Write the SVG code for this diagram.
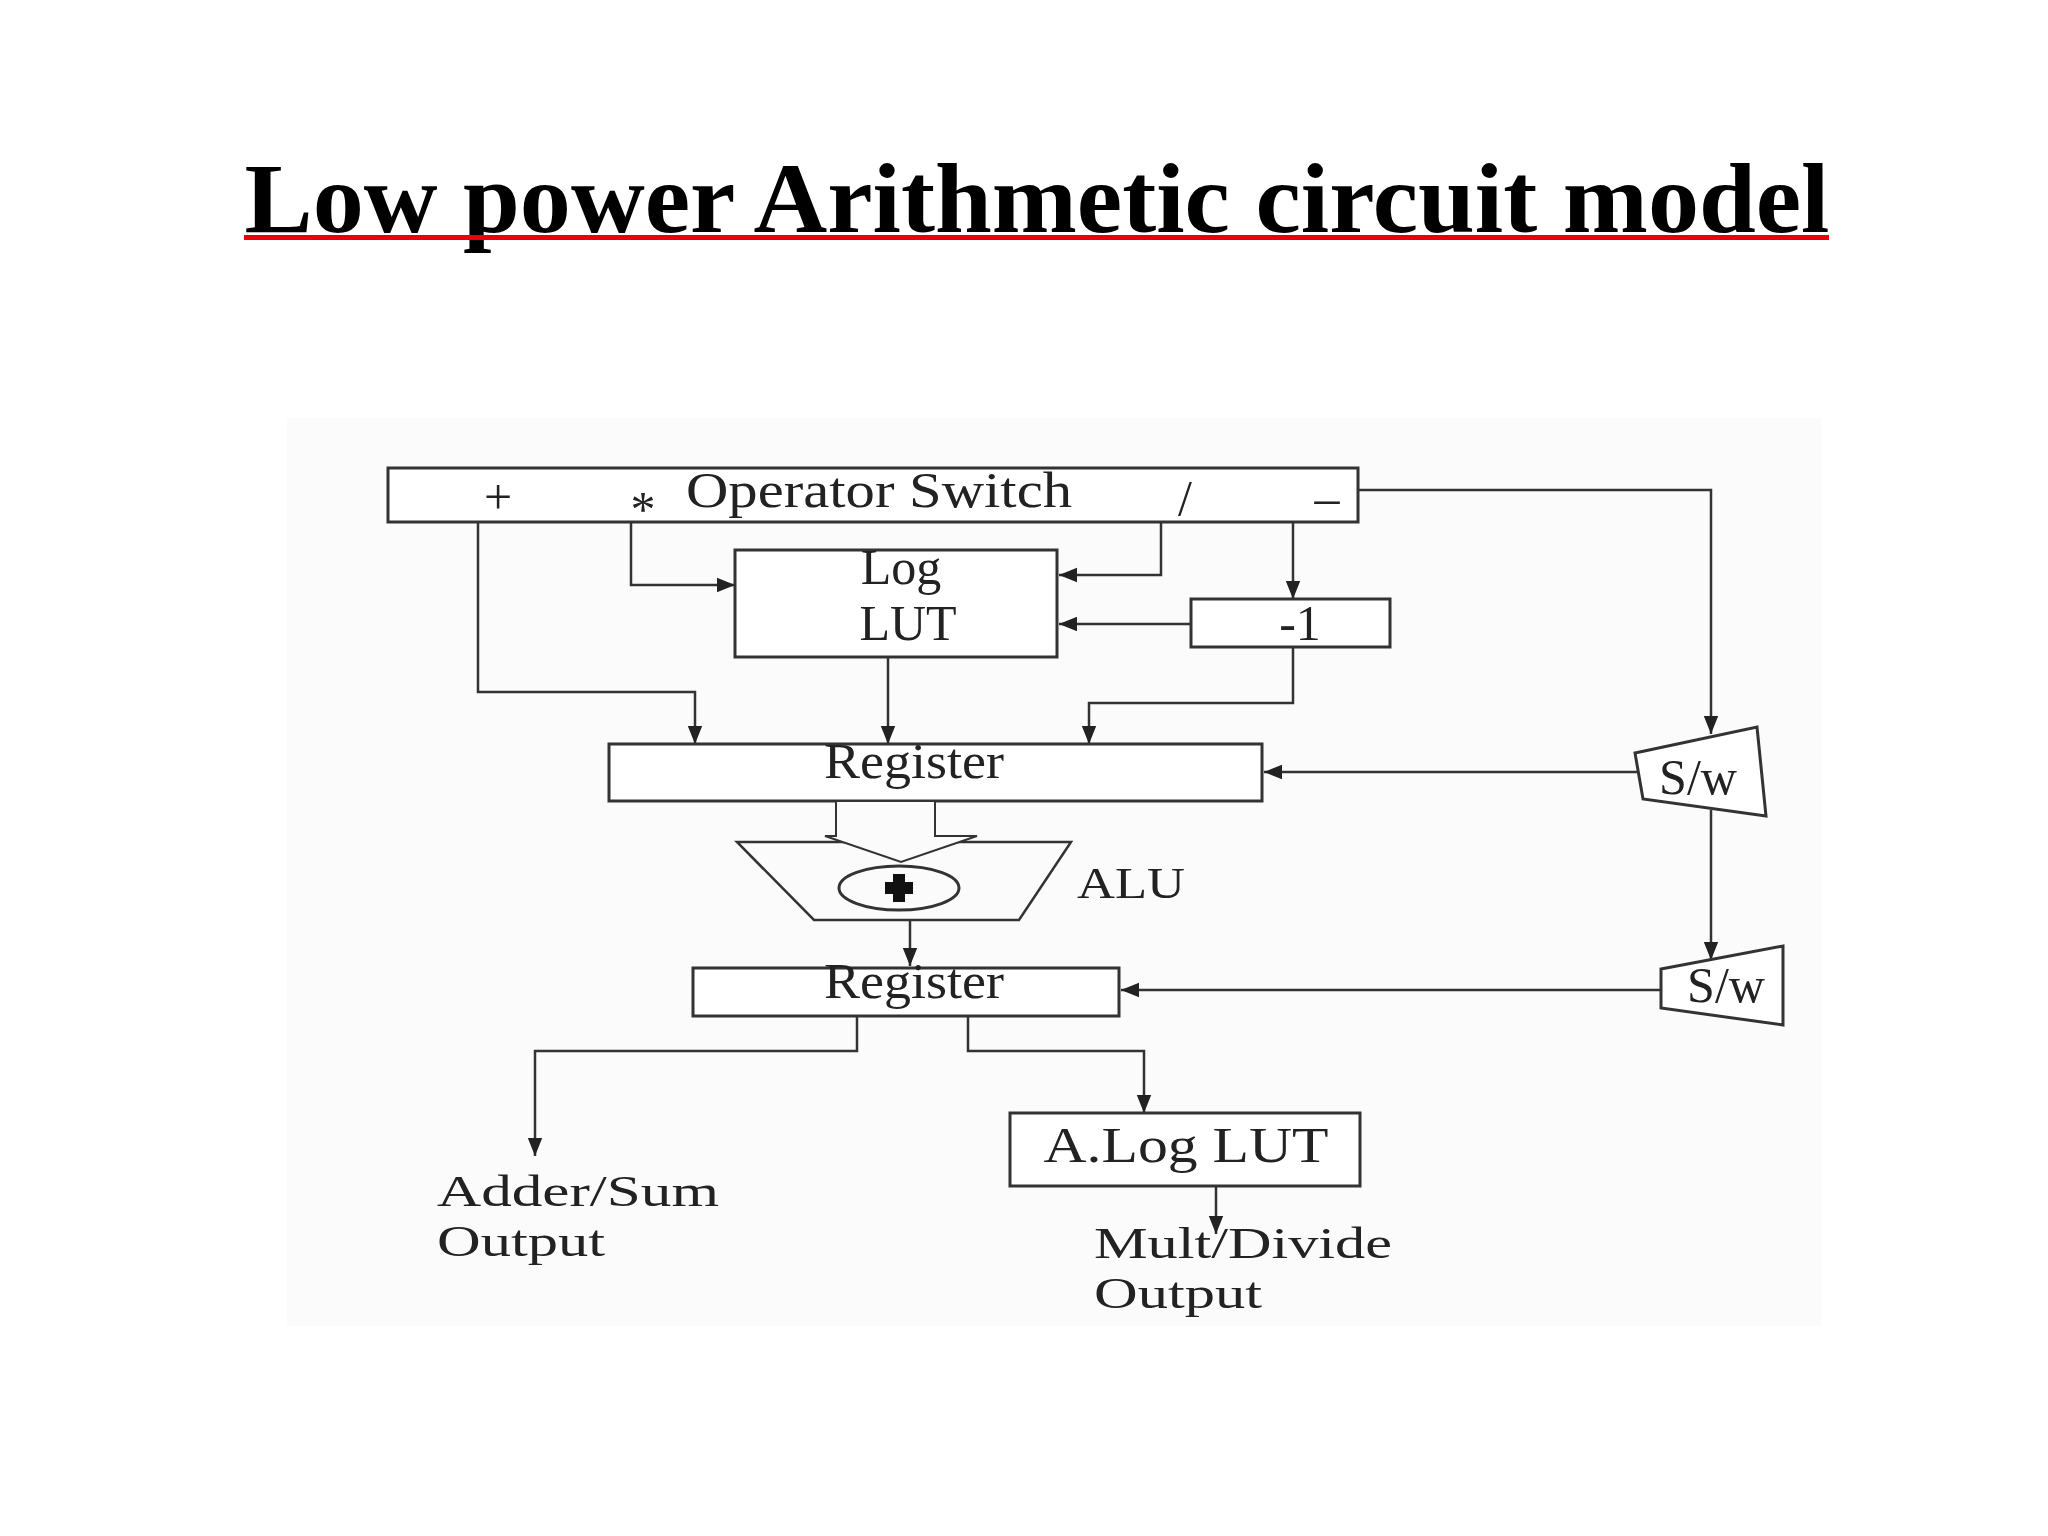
<svg xmlns="http://www.w3.org/2000/svg" width="2048" height="1536" viewBox="0 0 2048 1536">
<style>
.b{fill:#fff;stroke:#333;stroke-width:3}
.c{fill:none;stroke:#333;stroke-width:2.5}
.t{font-family:"Liberation Serif",serif;font-size:50px;fill:#222;text-anchor:middle}
.l{font-family:"Liberation Serif",serif;font-size:44px;fill:#222}
</style>
<defs>
<marker id="a" viewBox="0 0 10 10" refX="10" refY="5" markerWidth="18" markerHeight="18" markerUnits="userSpaceOnUse" orient="auto"><path d="M0,1 L10,5 L0,9 z" fill="#222"/></marker>
</defs>
<rect width="2048" height="1536" fill="#fff"/>
<rect x="287" y="418" width="1535" height="908" fill="#fbfbfb"/>
<text x="1037" y="232" font-family="Liberation Serif,serif" font-weight="bold" font-size="100" text-anchor="middle" textLength="1585" lengthAdjust="spacingAndGlyphs">Low power Arithmetic circuit model</text>
<rect x="244" y="235" width="1585" height="5" fill="#e00"/>
<g id="connectors" class="c">
<path d="M1358,490 H1711 V734" marker-end="url(#a)"/>
<path d="M1711,810 V960" marker-end="url(#a)"/>
<path d="M1637,772 H1264" marker-end="url(#a)"/>
<path d="M1663,990 H1121" marker-end="url(#a)"/>
<path d="M478,522 V692 H695 V744" marker-end="url(#a)"/>
<path d="M631,522 V585 H735" marker-end="url(#a)"/>
<path d="M1161,522 V575 H1059" marker-end="url(#a)"/>
<path d="M1293,522 V599" marker-end="url(#a)"/>
<path d="M1191,624 H1059" marker-end="url(#a)"/>
<path d="M1293,647 V703 H1089 V744" marker-end="url(#a)"/>
<path d="M888,657 V744" marker-end="url(#a)"/>
<path d="M910,920 V966" marker-end="url(#a)"/>
<path d="M857,1016 V1051 H535 V1156" marker-end="url(#a)"/>
<path d="M968,1016 V1051 H1144 V1113" marker-end="url(#a)"/>
<path d="M1216,1186 V1234" marker-end="url(#a)"/>
</g>
<g id="opswitch">
<rect class="b" x="388" y="468" width="970" height="54"/>
<text class="t" x="879" y="507" textLength="386" lengthAdjust="spacingAndGlyphs">Operator Switch</text>
<text class="t" x="498" y="514" font-size="36">+</text>
<text class="t" x="643" y="526" font-size="30">*</text>
<text class="t" x="1185" y="515" font-size="30">/</text>
<text class="t" x="1327" y="515" font-size="30">–</text>
</g>
<g id="loglut">
<rect class="b" x="735" y="550" width="322" height="107"/>
<text class="t" x="901" y="584" font-size="42">Log</text>
<text class="t" x="908" y="640" font-size="42">LUT</text>
</g>
<g id="minus1">
<rect class="b" x="1191" y="599" width="199" height="48"/>
<text class="t" x="1300" y="640">-1</text>
</g>
<g id="register1">
<rect class="b" x="609" y="744" width="653" height="57"/>
<text class="t" x="914" y="778" textLength="180" lengthAdjust="spacingAndGlyphs">Register</text>
</g>
<g id="alu">
<path class="c" d="M737,842 H1071 L1019,920 H814 Z"/>
<path d="M836,802 V836 H825 L901,862 L977,836 H935 V802" fill="#fbfbfb" stroke="#333" stroke-width="2"/>
<ellipse cx="899" cy="888" rx="60" ry="22" fill="none" stroke="#333" stroke-width="3"/>
<path d="M893,874 h12 v8 h8 v12 h-8 v8 h-12 v-8 h-8 v-12 h8 z" fill="#111"/>
<text class="l" x="1077" y="898" font-size="48" textLength="108" lengthAdjust="spacingAndGlyphs">ALU</text>
</g>
<g id="register2">
<rect class="b" x="693" y="968" width="426" height="48"/>
<text class="t" x="914" y="998" textLength="180" lengthAdjust="spacingAndGlyphs">Register</text>
</g>
<g id="sw1">
<path class="b" d="M1635,753 L1757,727 L1766,816 L1643,799 Z"/>
<text class="t" x="1698" y="794">S/w</text>
</g>
<g id="sw2">
<path class="b" d="M1661,969 L1783,946 L1783,1025 L1661,1008 Z"/>
<text class="t" x="1726" y="1002">S/w</text>
</g>
<g id="aloglut">
<rect class="b" x="1010" y="1113" width="350" height="73"/>
<text class="t" x="1186" y="1162" textLength="285" lengthAdjust="spacingAndGlyphs">A.Log LUT</text>
</g>
<g id="labels">
<text class="l" x="437" y="1206" textLength="282" lengthAdjust="spacingAndGlyphs">Adder/Sum</text>
<text class="l" x="437" y="1256" textLength="168" lengthAdjust="spacingAndGlyphs">Output</text>
<text class="l" x="1094" y="1258" textLength="298" lengthAdjust="spacingAndGlyphs">Mult/Divide</text>
<text class="l" x="1094" y="1308" textLength="168" lengthAdjust="spacingAndGlyphs">Output</text>
</g>
</svg>
